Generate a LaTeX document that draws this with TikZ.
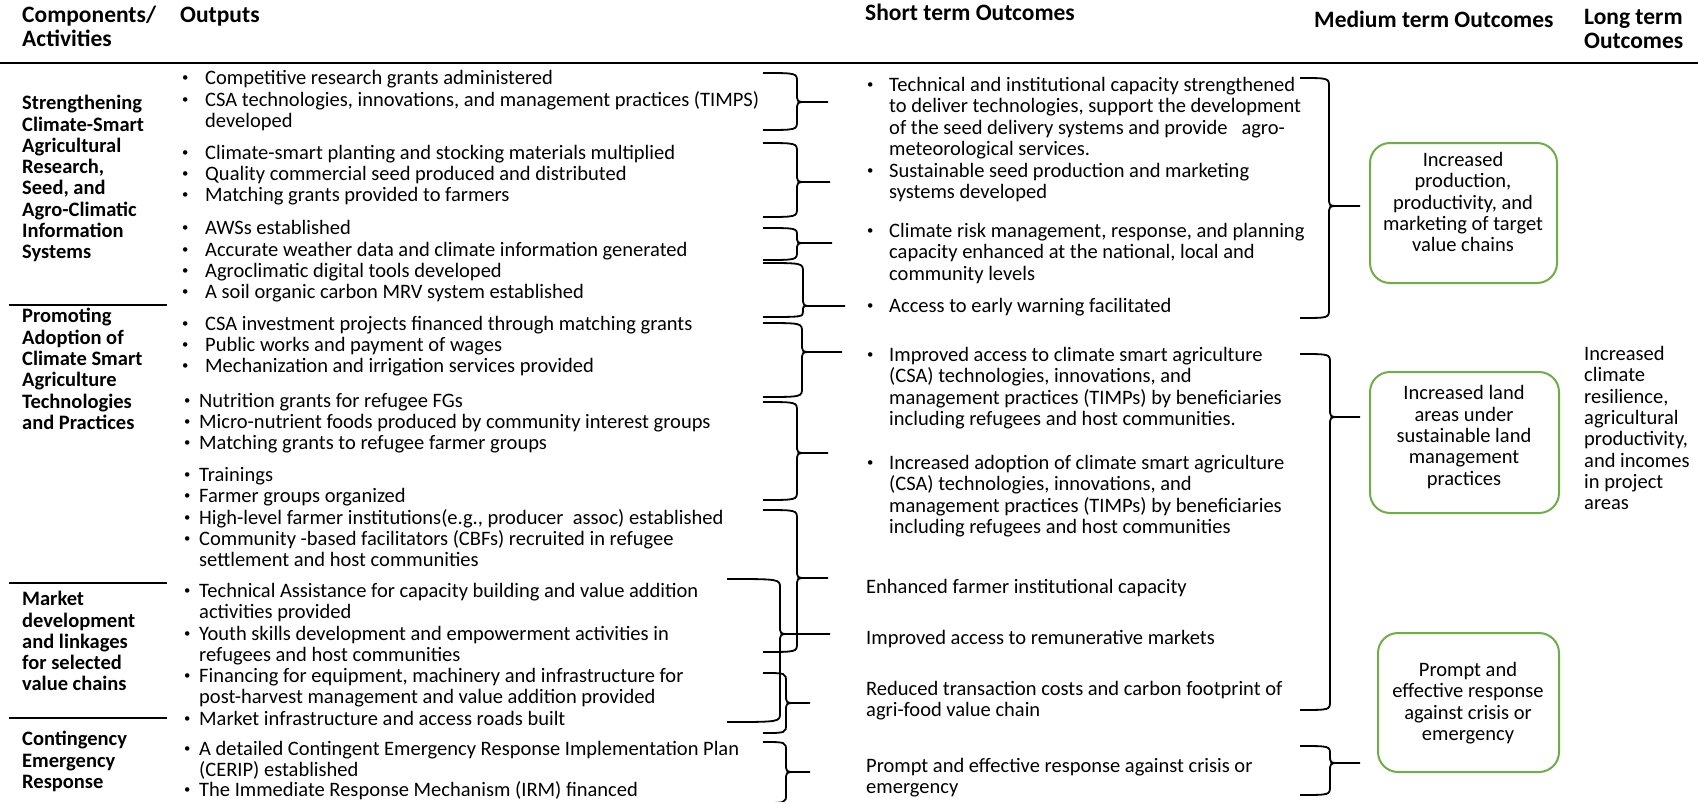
\documentclass[tikz,border=0pt]{standalone}
\usepackage{fontspec}
\setmainfont{Carlito}
\usepackage{graphicx}
\usepackage{xcolor}
\definecolor{goalgreen}{RGB}{112,173,71}
\usetikzlibrary{calc}

\newcommand{\bult}[1][24pt]{\makebox[#1][l]{\hspace{1pt}\raisebox{0.13em}{\scalebox{0.62}{\textbullet}}}}
\newcommand{\bind}[1][24pt]{\hspace*{#1}}
% right brace: x left, x spine, x tip, y top, y tip, y bottom
\newcommand{\rbr}[6]{%
  \pgfmathsetmacro{\ra}{min(9,(#5-#4)/2)}%
  \pgfmathsetmacro{\rb}{min(9,(#6-#5)/2)}%
  \draw[brace line] (#1,#4) .. controls (#2,#4) .. (#2,#4+\ra) -- (#2,#5-\ra) .. controls (#2,#5) .. (#2+\ra,#5) -- (#3,#5);
  \draw[brace line] (#1,#6) .. controls (#2,#6) .. (#2,#6-\rb) -- (#2,#5+\rb) .. controls (#2,#5) .. (#2+\rb,#5);
}

\tikzset{
  txt/.style={anchor=north west, inner sep=0pt, align=left, yshift=8.8pt,
    font=\fontsize{20.5}{21.3}\selectfont, execute at begin node=\strut},
  comp/.style={txt, font=\fontsize{20.5}{21.3}\selectfont\bfseries},
  head/.style={txt, yshift=9.8pt, font=\fontsize{23.5}{24}\selectfont\bfseries},
  goal/.style={draw=goalgreen, line width=2pt, rounded corners=20pt},
  goaltext/.style={inner sep=0pt, align=center, font=\fontsize{20.5}{21.4}\selectfont},
  brace line/.style={line width=1.8pt},
  sep/.style={line width=2pt}
}

\begin{document}
\begin{tikzpicture}[x=1pt, y=-1pt]
  \useasboundingbox (0,0) rectangle (1698,801);

  % headings
  \node[head] (hcomp) at (22,24) {Components/\\Activities};
  \node[head] (hout) at (180,24) {Outputs};
  \node[head] (hshort) at (865,22) {Short term Outcomes};
  \node[head] (hmed) at (1314,29) {Medium term Outcomes};
  \node[head] (hlong) at (1584,28) {Long term\\Outcomes};
  \draw[line width=2.5pt] (0,63) -- (1698,63);

  % components
  \node[comp] (c1) at (22,104) {Strengthening\\Climate-Smart\\Agricultural\\Research,\\Seed, and\\Agro-Climatic\\Information\\Systems};
  \node[comp] (c2) at (22,317) {Promoting\\Adoption of\\Climate Smart\\Agriculture\\Technologies\\and Practices};
  \node[comp] (c3) at (22,600) {Market\\development\\and linkages\\for selected\\value chains};
  \node[comp] (c4) at (22,740) {Contingency\\Emergency\\Response};
  \draw[sep] (9,305) -- (167,305);
  \draw[sep] (9,583) -- (167,583);
  \draw[sep] (9,718) -- (167,718);

  % outputs
  \node[txt] (o1) at (181,78) {\bult Competitive research grants administered};
  \node[txt] (o2) at (181,100) {\bult CSA technologies, innovations, and management practices (TIMPS)\\\bind developed};
  \node[txt] (o3) at (181,153) {\bult Climate-smart planting and stocking materials multiplied};
  \node[txt] (o4) at (181,174) {\bult Quality commercial seed produced and distributed};
  \node[txt] (o5) at (181,195) {\bult Matching grants provided to farmers};
  \node[txt] (o6) at (181,228) {\bult AWSs established};
  \node[txt] (o7) at (181,250) {\bult Accurate weather data and climate information generated};
  \node[txt] (o8) at (181,271) {\bult Agroclimatic digital tools developed};
  \node[txt] (o9) at (181,292) {\bult A soil organic carbon MRV system established};
  \node[txt] (o10) at (181,324) {\bult CSA investment projects financed through matching grants};
  \node[txt] (o11) at (181,345) {\bult Public works and payment of wages};
  \node[txt] (o12) at (181,366) {\bult Mechanization and irrigation services provided};
  \node[txt] (o13) at (183,401) {\bult[16pt]Nutrition grants for refugee FGs};
  \node[txt] (o14) at (183,422) {\bult[16pt]Micro-nutrient foods produced by community interest groups};
  \node[txt] (o15) at (183,443) {\bult[16pt]Matching grants to refugee farmer groups};
  \node[txt] (o16) at (183,475) {\bult[16pt]Trainings};
  \node[txt] (o17) at (183,496) {\bult[16pt]Farmer groups organized};
  \node[txt] (o18) at (183,518) {\bult[16pt]High-level farmer institutions(e.g., producer\ \ assoc) established};
  \node[txt] (o19) at (183,539) {\bult[16pt]Community -based facilitators (CBFs) recruited in refugee\\\bind[16pt]settlement and host communities};
  \node[txt] (o20) at (183,592) {\bult[16pt]Technical Assistance for capacity building and value addition\\\bind[16pt]activities provided};
  \node[txt] (o21) at (183,635) {\bult[16pt]Youth skills development and empowerment activities in\\\bind[16pt]refugees and host communities};
  \node[txt] (o22) at (183,677) {\bult[16pt]Financing for equipment, machinery and infrastructure for\\\bind[16pt]post-harvest management and value addition provided};
  \node[txt] (o23) at (183,719) {\bult[16pt]Market infrastructure and access roads built};
  \node[txt] (o24) at (183,750) {\bult[16pt]A detailed Contingent Emergency Response Implementation Plan\\\bind[16pt](CERIP) established};
  \node[txt] (o25) at (183,790) {\bult[16pt]The Immediate Response Mechanism (IRM) financed};

  % short term outcomes
  \node[txt] (s1) at (866,86) {\bult[23pt]Technical and institutional capacity strengthened\\\bind[23pt]to deliver technologies, support the development\\\bind[23pt]of the seed delivery systems and provide \ \ agro-\\\bind[23pt]meteorological services.};
  \node[txt] (s2) at (866,172) {\bult[23pt]Sustainable seed production and marketing\\\bind[23pt]systems developed};
  \node[txt] (s3) at (866,232) {\bult[23pt]Climate risk management, response, and planning\\\bind[23pt]capacity enhanced at the national, local and\\\bind[23pt]community levels};
  \node[txt] (s4) at (866,306) {\bult[23pt]Access to early warning facilitated};
  \node[txt] (s5) at (866,356) {\bult[23pt]Improved access to climate smart agriculture\\\bind[23pt](CSA) technologies, innovations, and\\\bind[23pt]management practices (TIMPs) by beneficiaries\\\bind[23pt]including refugees and host communities.};
  \node[txt] (s6) at (866,464) {\bult[23pt]Increased adoption of climate smart agriculture\\\bind[23pt](CSA) technologies, innovations, and\\\bind[23pt]management practices (TIMPs) by beneficiaries\\\bind[23pt]including refugees and host communities};
  \node[txt] (s7) at (866,587) {Enhanced farmer institutional capacity};
  \node[txt] (s8) at (866,638) {Improved access to remunerative markets};
  \node[txt] (s9) at (866,690) {Reduced transaction costs and carbon footprint of\\agri-food value chain};
  \node[txt] (s10) at (866,767) {Prompt and effective response against crisis or\\emergency};

  % braces outputs -> short term
  \rbr{763}{797}{828}{73}{102}{130}
  \rbr{763}{797}{830}{143}{182}{217}
  \rbr{763}{797}{832}{228}{243}{260}
  \rbr{763}{803}{845}{263}{306}{317}
  \rbr{763}{802}{842}{323}{352}{397}
  \rbr{763}{797}{828}{402}{453}{500}
  \rbr{763}{797}{828}{510}{578}{652}
  \rbr{727}{780}{830}{579}{634}{722}
  \rbr{763}{786}{810}{673}{703}{733}
  \rbr{763}{786}{810}{742}{772}{803}

  % braces short -> medium term
  \rbr{1300}{1329}{1360}{78}{206}{318}
  \rbr{1300}{1330}{1360}{354}{417}{710}
  \rbr{1300}{1330}{1360}{746}{763}{795}

  % medium term outcomes
  \node[goal, minimum width=187pt, minimum height=140pt] (m1) at (1463.5,213) {};
  \node[goaltext] (m1t) at (1463,202) {Increased\\production,\\productivity, and\\marketing of target\\value chains};
  \node[goal, minimum width=189pt, minimum height=141pt] (m2) at (1464.5,442.5) {};
  \node[goaltext] (m2t) at (1464,437) {Increased land\\areas under\\sustainable land\\management\\practices};
  \node[goal, minimum width=181pt, minimum height=139pt] (m3) at (1468.5,702.5) {};
  \node[goaltext] (m3t) at (1468,703) {Prompt and\\effective response\\against crisis or\\emergency};

  % long term outcome
  \node[txt] (l1) at (1584,355) {Increased\\climate\\resilience,\\agricultural\\productivity,\\and incomes\\in project\\areas};
\end{tikzpicture}
\end{document}
